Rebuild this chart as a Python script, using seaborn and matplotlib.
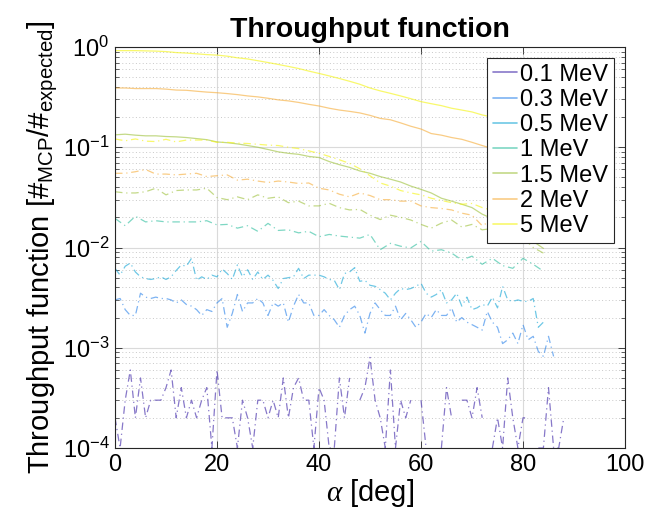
import numpy as np
import pandas as pd
import matplotlib
matplotlib.use("Agg")
import matplotlib.pyplot as plt
import seaborn as sns
from matplotlib.lines import Line2D
from matplotlib.ticker import LogLocator, NullFormatter

nan = np.nan

# ---------------- data ----------------
energies = ["0.1 MeV", "0.3 MeV", "0.5 MeV", "1 MeV", "1.5 MeV", "2 MeV", "5 MeV"]

angles_coarse = np.arange(0, 85, 2)   # 0..84 deg
angles_fine = np.arange(0, 89, 1)     # 0..88 deg

# solid curves
solid_5mev = [0.92, 0.92, 0.92, 0.915, 0.91, 0.90, 0.88, 0.87, 0.855, 0.84, 0.83, 0.81, 0.78,
              0.76, 0.73, 0.70, 0.67, 0.64, 0.61, 0.575, 0.545, 0.515, 0.485, 0.455, 0.425,
              0.39, 0.365, 0.345, 0.325, 0.305, 0.285, 0.272, 0.26, 0.245, 0.235, 0.225, 0.21,
              0.20, 0.19, 0.175, 0.16, 0.15, 0.14]
solid_2mev = [0.39, 0.39, 0.385, 0.385, 0.385, 0.38, 0.372, 0.37, 0.362, 0.355, 0.35, 0.343,
              0.335, 0.325, 0.318, 0.308, 0.297, 0.29, 0.28, 0.268, 0.258, 0.245, 0.235, 0.228,
              0.22, 0.208, 0.194, 0.188, 0.175, 0.162, 0.152, 0.137, 0.132, 0.125, 0.12, 0.112,
              0.104, 0.097, 0.09, 0.082, 0.075, 0.068, 0.062]
solid_15mev = [0.133, 0.135, 0.132, 0.13, 0.13, 0.128, 0.127, 0.125, 0.122, 0.119, 0.113, 0.111,
               0.108, 0.104, 0.10, 0.095, 0.09, 0.087, 0.085, 0.081, 0.079, 0.072, 0.067, 0.063,
               0.058, 0.055, 0.051, 0.048, 0.045, 0.041, 0.038, 0.035, 0.031, 0.029, 0.027,
               0.025, 0.0215, 0.0194, 0.017, 0.015, 0.013, 0.0115, 0.0098]

# dash-dot curves
dd_5mev = [0.121, 0.116, 0.121, 0.115, 0.114, 0.12, 0.113, 0.118, 0.118, 0.118, 0.112, 0.112,
           0.11, 0.109, 0.107, 0.105, 0.104, 0.10, 0.097, 0.092, 0.087, 0.081, 0.075, 0.069,
           0.061, 0.052, 0.044, 0.041, 0.037, 0.035, 0.0335, 0.031, 0.0295, 0.028, 0.027,
           0.0275, 0.025, 0.0235, 0.021, 0.018, 0.016, 0.014, 0.012]
dd_2mev = [0.055, 0.055, 0.057, 0.06, 0.054, 0.054, 0.053, 0.054, 0.055, 0.051, 0.052, 0.053,
           0.047, 0.048, 0.046, 0.0445, 0.046, 0.045, 0.0435, 0.044, 0.039, 0.0375, 0.034,
           0.032, 0.035, 0.033, 0.030, 0.030, 0.029, 0.029, 0.026, 0.025, 0.0245, 0.0237,
           0.022, 0.021, 0.0165, 0.0188, 0.017, 0.0155, 0.014, 0.012, 0.011]
dd_15mev = [0.036, 0.035, 0.035, 0.036, 0.039, 0.0335, 0.037, 0.0375, 0.0375, 0.039, 0.0315,
            0.030, 0.032, 0.030, 0.0335, 0.031, 0.032, 0.028, 0.029, 0.026, 0.026, 0.0276,
            0.025, 0.0237, 0.024, 0.021, 0.019, 0.021, 0.020, 0.0188, 0.017, 0.0156, 0.0175,
            0.0188, 0.016, 0.017, 0.015, 0.0155, 0.013, 0.012, 0.0125, 0.010, 0.0088]
dd_1mev = [0.0195, 0.0165, 0.0205, 0.018, 0.0185, 0.018, 0.018, 0.018, 0.018, 0.0185, 0.0168,
           0.017, 0.0156, 0.0165, 0.0145, 0.0174, 0.0148, 0.015, 0.014, 0.0145, 0.0128, 0.0135,
           0.013, 0.0127, 0.0124, 0.0135, 0.0095, 0.011, 0.0103, 0.0099, 0.0115, 0.0092,
           0.0095, 0.0088, 0.0075, 0.0082, 0.0068, 0.0078, 0.0066, 0.0062, 0.0078, 0.0068,
           0.0058]
dd_05mev = [0.0062, 0.0053, 0.0065, 0.0070, 0.0057, 0.0051, 0.0049, 0.0048, 0.0049, 0.0051,
            0.0048, 0.0051, 0.0059, 0.0067, 0.0065, 0.0078, 0.0047, 0.0051, 0.0048, 0.0053,
            0.0051, 0.0061, 0.0055, 0.0048, 0.0067, 0.0051, 0.0060, 0.0048, 0.0057, 0.0048,
            0.0053, 0.0047, 0.0039, 0.0049, 0.0050, 0.0051, 0.0062, 0.0049, 0.0053, 0.0053,
            0.0053, 0.0051, 0.0048, 0.0047, 0.0038, 0.0055, 0.0057, 0.0063, 0.0046, 0.0047,
            0.0042, 0.0041, 0.0038, 0.0035, 0.0030, 0.0035, 0.0039, 0.0038, 0.0039, 0.0041,
            0.0044, 0.0035, 0.0032, 0.0034, 0.0038, 0.0028, 0.0030, 0.0035, 0.0026, 0.0032,
            0.0024, 0.0025, 0.0027, 0.0026, 0.0032, 0.0025, 0.0041, 0.0030, 0.0029, 0.0030,
            0.0029, 0.0029, 0.0031, 0.0016, 0.0018, nan, nan, nan, nan]
dd_03mev = [0.0030, 0.0031, 0.0024, 0.0021, 0.0021, 0.0035, 0.0032, 0.0031, 0.0032, 0.0031,
            0.0031, 0.0030, 0.0028, 0.0030, 0.0027, 0.0026, 0.0024, 0.0021, 0.0024, 0.0023,
            0.0028, 0.0031, 0.0016, 0.0022, 0.0034, 0.0023, 0.0028, 0.0028, 0.0031, 0.0028,
            0.0021, 0.0028, 0.0026, 0.0028, 0.0018, 0.0026, 0.0034, 0.0028, 0.0028, 0.0021,
            0.0021, 0.0024, 0.0021, 0.0019, 0.0016, 0.0021, 0.0024, 0.0026, 0.0021, 0.0014,
            0.0022, 0.0028, 0.0024, 0.0021, 0.0021, 0.0026, 0.0019, 0.0022, 0.0019, 0.0016,
            0.0018, 0.0022, 0.0020, 0.0024, 0.0021, 0.0021, 0.0025, 0.0018, 0.0020, 0.0018,
            0.0017, 0.0016, 0.0015, 0.0023, 0.0018, 0.0016, 0.0011, 0.0012, 0.0014, 0.0011,
            0.0017, 0.0012, 0.0013, 0.00092, 0.00082, 0.0013, 0.00082, nan, nan]
dd_01mev = [2e-4, 1e-4, 3e-4, 6e-4, 2e-4, 5e-4, 2e-4, 3e-4, 3e-4, 3e-4,
            4e-4, 6e-4, 2e-4, 4e-4, 2e-4, 3e-4, 2e-4, 3e-4, 4e-4, 1e-4,
            6e-4, 2e-4, 2e-4, 2e-4, 1e-4, 3e-4, 2e-4, 1e-4, 3e-4, 3e-4,
            2e-4, 3e-4, 2e-4, 5e-4, 2e-4, 4e-4, 5e-4, 3e-4, 3e-4, 1e-4,
            4e-4, 3e-4, 1e-4, 1e-4, 5e-4, 2e-4, 5e-4, 0, 3e-4, 4e-4,
            8e-4, 3e-4, 2e-4, 1e-4, 6e-4, 1e-4, 3e-4, 2e-4, 3e-4, 0,
            3e-4, 1e-4, 0, 0, 1e-4, 4e-4, 2e-4, 0, 3e-4, 3e-4,
            2e-4, 4e-4, 2e-4, 0, 1e-4, 2e-4, 1e-4, 5e-4, 2e-4, 1e-4,
            2e-4, 2e-4, 0, 1e-4, 1e-4, 4e-4, 1e-4, 1e-4, 2e-4]

colors = ["#3e26a8", "#2d84ea", "#16a6d6", "#2fbf9f", "#9fc23e", "#f6ad3a", "#f5f512"]
ALPHA = 0.62
DASHDOT = (0, (6, 3, 1, 3))

# ---------------- style ----------------
sns.set_style("ticks")
plt.rcParams["font.family"] = ["Liberation Sans", "DejaVu Sans"]
plt.rcParams["mathtext.fontset"] = "custom"
plt.rcParams["mathtext.rm"] = "Liberation Sans"
plt.rcParams["mathtext.it"] = "Liberation Serif:italic"
plt.rcParams["mathtext.bf"] = "Liberation Sans:bold"
plt.rcParams["axes.edgecolor"] = "#262626"
plt.rcParams["text.color"] = "black"
plt.rcParams["axes.labelcolor"] = "black"
plt.rcParams["axes.titlecolor"] = "black"
plt.rcParams["xtick.color"] = "#262626"
plt.rcParams["ytick.color"] = "#262626"
plt.rcParams["xtick.labelcolor"] = "black"
plt.rcParams["ytick.labelcolor"] = "black"

fig = plt.figure(figsize=(6.6, 5.15), dpi=100)
ax = fig.add_axes([115 / 660, 1 - 448 / 515, 510 / 660, 401 / 515])
ax.set_yscale("log")


def draw(x, y, color, ls):
    df = pd.DataFrame({"angle": x, "value": y})
    df.loc[df["value"] <= 0, "value"] = np.nan
    df["seg"] = df["value"].isna().cumsum()
    df = df.dropna()
    sns.lineplot(data=df, x="angle", y="value", units="seg", estimator=None, sort=False,
                 color=color, alpha=ALPHA, lw=0.9, linestyle=ls, ax=ax, legend=False)


# solid lines
draw(angles_coarse, solid_15mev, colors[4], "-")
draw(angles_coarse, solid_2mev, colors[5], "-")
draw(angles_coarse, solid_5mev, colors[6], "-")
# dash-dot lines
draw(angles_fine, dd_01mev, colors[0], DASHDOT)
draw(angles_fine, dd_03mev, colors[1], DASHDOT)
draw(angles_fine, dd_05mev, colors[2], DASHDOT)
draw(angles_coarse, dd_1mev, colors[3], DASHDOT)
draw(angles_coarse, dd_15mev, colors[4], DASHDOT)
draw(angles_coarse, dd_2mev, colors[5], DASHDOT)
draw(angles_coarse, dd_5mev, colors[6], DASHDOT)

# ---------------- axes ----------------
ax.set_xlim(0, 100)
ax.set_ylim(1e-4, 1)
ax.set_xticks([0, 20, 40, 60, 80, 100])
ax.yaxis.set_major_locator(LogLocator(base=10, numticks=10))
ax.yaxis.set_minor_locator(LogLocator(base=10, subs=np.arange(2, 10), numticks=20))
ax.yaxis.set_minor_formatter(NullFormatter())
ax.tick_params(which="both", direction="in", top=True, right=True)
ax.tick_params(which="major", length=5, width=0.6, labelsize=17, pad=4)
ax.tick_params(which="minor", length=3, width=0.5)
ax.grid(True, which="major", color="#dadada", lw=0.8, ls="-")
ax.grid(True, which="minor", axis="y", color="#c8c8c8", lw=0.7, ls=(0, (1, 2.5)))
ax.set_axisbelow(True)
for s in ax.spines.values():
    s.set_linewidth(0.8)

ax.set_title("Throughput function", fontsize=20.5, fontweight="bold", pad=7, color="black")
ax.set_xlabel(r"$\alpha$ [deg]", fontsize=21, labelpad=1)
ax.set_ylabel(r"Throughput function [#$_{\mathrm{MCP}}$/#$_{\mathrm{expected}}$]",
              fontsize=21, labelpad=2)

handles = [Line2D([0], [0], color=c, lw=1.2, alpha=ALPHA) for c in colors]
leg = ax.legend(handles, energies, loc="upper right", fontsize=17, frameon=True,
                fancybox=False, edgecolor="#262626", framealpha=1, handlelength=1.0,
                handletextpad=0.15, labelspacing=0.14, borderpad=0.25, borderaxespad=0.45)
leg.get_frame().set_linewidth(0.8)
for t in leg.get_texts():
    t.set_color("black")

fig.savefig("out.png", dpi=100)
